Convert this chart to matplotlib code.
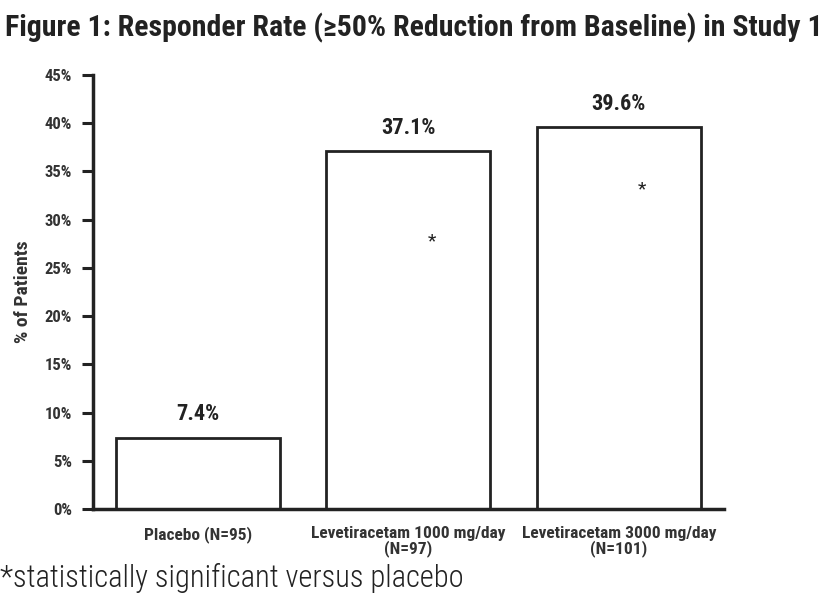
import matplotlib
matplotlib.use("Agg")
import matplotlib.pyplot as plt

plt.rcParams['font.family'] = ['Roboto Condensed', 'DejaVu Sans']

groups = ['Placebo (N=95)', 'Levetiracetam 1000 mg/day\n(N=97)', 'Levetiracetam 3000 mg/day\n(N=101)']
rates = [7.4, 37.1, 39.6]
rate_labels = ['7.4%', '37.1%', '39.6%']
star_levels = [None, 27.7, 33.1]
yticks = [0, 5, 10, 15, 20, 25, 30, 35, 40, 45]

fig = plt.figure(figsize=(8.37, 5.94), dpi=100)
ax = fig.add_axes([0.111, 0.143, 0.754, 0.731])

x = list(range(len(groups)))
ax.bar(x, rates, width=0.78, color='white', edgecolor='#222222', linewidth=2)

for i, v in enumerate(rates):
    ax.text(i, v + 2.4, rate_labels[i], ha='center', va='center', fontsize=16, fontweight='bold', color='#222222')
    if star_levels[i] is not None:
        ax.text(i + 0.11, star_levels[i], '*', ha='center', va='center', fontsize=14, color='#222222')

ax.set_xlim(-0.5, 2.5)
ax.set_ylim(0, 45)
ax.set_yticks(yticks)
ax.set_yticklabels([f'{t}%' for t in yticks], fontsize=12, fontweight='bold', color='#333333')
ax.set_xticks(x)
ax.set_xticklabels(groups, fontsize=12.5, fontweight='bold', color='#333333', linespacing=0.95)
ax.tick_params(axis='y', length=8, width=2.2, color='#222222', pad=7)
ax.tick_params(axis='x', length=0, pad=12)
ax.set_ylabel('% of Patients', fontsize=14, fontweight='bold', color='#333333', labelpad=9)

for s in ['top', 'right']:
    ax.spines[s].set_visible(False)
for s in ['left', 'bottom']:
    ax.spines[s].set_linewidth(2.5)
    ax.spines[s].set_color('#222222')

fig.text(0.006, 0.953, 'Figure 1: Responder Rate (\u226550% Reduction from Baseline) in Study 1',
         fontsize=21.5, fontweight='bold', color='#222222', va='center')
fig.text(0.0, 0.027, '*statistically significant versus placebo', fontsize=22,
         fontweight='light', color='#222222', va='center')

fig.savefig('out.png', dpi=100)
